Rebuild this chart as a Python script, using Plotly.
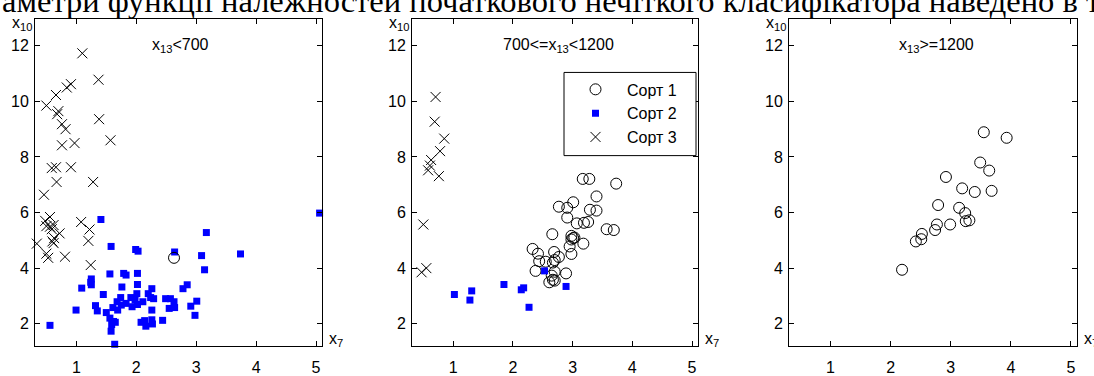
import plotly.graph_objects as go

# ---------------- data ----------------
# Panel 1: x13 < 700
p1_s3_x = [1.32, 1.10, 1.37, 0.91, 0.84, 0.66, 0.50, 0.70, 0.68, 1.38, 0.76, 0.82, 0.76, 0.97, 1.57,
           0.59, 0.66, 0.91, 0.67, 1.28, 0.46, 0.56, 0.48, 1.08, 0.50, 0.56, 0.62, 0.59, 1.22, 0.72,
           0.63, 1.20, 0.60, 0.62, 0.34, 0.50, 0.53, 0.81, 1.24]
p1_s3_y = [13.0, 11.73, 10.78, 10.62, 10.50, 10.23, 9.85, 9.65, 9.54, 9.36, 9.18, 9.00, 8.42, 8.50, 8.60,
           7.60, 7.63, 7.63, 7.10, 7.10, 6.64, 5.84, 5.70, 5.66, 5.51, 5.49, 5.55, 5.40, 5.39, 5.25,
           5.08, 4.98, 4.96, 4.90, 4.88, 4.52, 4.37, 4.41, 4.11]
p1_s2_x = [0.56, 0.995, 1.09, 1.25, 1.24, 1.25, 1.41, 1.32, 1.35, 1.45, 1.50, 1.56, 1.58, 1.56, 1.61,
           1.59, 1.62, 1.58, 1.64, 1.65, 1.68, 1.69, 1.74, 1.75, 1.76, 1.79, 1.83, 1.83, 1.91, 1.93,
           1.98, 2.01, 2.02, 2.02, 2.02, 1.99, 2.03, 2.08, 2.11, 2.14, 2.16, 2.20, 2.24, 2.26, 2.27,
           2.26, 2.26, 2.29, 2.44, 2.49, 2.55, 2.57, 2.63, 2.64, 2.64, 2.78, 2.85, 2.91, 2.98, 3.01,
           3.09, 3.14, 3.17, 3.74, 5.06]
p1_s2_y = [1.94, 2.49, 3.28, 3.61, 3.49, 3.40, 5.75, 2.65, 2.46, 3.05, 2.40, 3.79, 4.78, 2.20, 2.58,
           1.97, 2.08, 1.73, 1.26, 2.05, 2.79, 2.49, 2.94, 2.67, 3.32, 3.81, 3.75, 2.73, 2.94, 2.61,
           2.85, 3.08, 2.69, 3.41, 3.81, 4.67, 4.61, 2.05, 2.79, 2.11, 1.91, 3.08, 2.94, 2.14, 1.99,
           2.49, 3.26, 2.90, 2.12, 2.90, 2.55, 2.90, 2.79, 2.58, 4.58, 3.26, 3.40, 2.63, 2.30, 2.81,
           4.45, 3.94, 5.28, 4.51, 5.98]
p1_s1_x = [2.63]
p1_s1_y = [4.37]

# Panel 2: 700 <= x13 < 1200
p2_s1_x = [3.17, 3.28, 3.73, 3.40, 2.77, 2.91, 3.01, 3.29, 3.40, 2.91, 3.07, 3.19, 3.26, 3.57, 3.69,
           2.66, 2.98, 3.01, 3.03, 2.98, 3.18, 2.95, 2.98, 2.33, 2.42, 2.69, 2.77, 2.70, 2.44, 2.55,
           2.67, 2.38, 2.70, 2.89, 2.65, 2.67, 2.61, 2.70]
p2_s1_y = [7.21, 7.21, 7.04, 6.58, 6.21, 6.17, 6.37, 6.10, 6.07, 5.82, 5.61, 5.63, 5.66, 5.40, 5.37,
           5.22, 5.16, 5.08, 5.10, 5.03, 4.88, 4.78, 4.51, 4.69, 4.52, 4.58, 4.40, 4.29, 4.25, 4.23,
           4.20, 3.90, 3.87, 3.81, 3.73, 3.58, 3.49, 3.55]
p2_s2_x = [1.02, 1.28, 1.31, 1.85, 2.14, 2.18, 2.27, 2.53, 2.89]
p2_s2_y = [3.05, 2.85, 3.18, 3.41, 3.22, 3.29, 2.59, 3.90, 3.34]
p2_s3_x = [0.705, 0.69, 0.85, 0.78, 0.63, 0.61, 0.58, 0.76, 0.50, 0.47, 0.55]
p2_s3_y = [10.16, 9.27, 8.66, 8.21, 7.89, 7.69, 7.52, 7.31, 5.57, 3.85, 4.00]

# Panel 3: x13 >= 1200
p3_s1_x = [3.55, 3.93, 3.49, 3.64, 2.92, 3.19, 3.40, 3.68, 2.79, 3.14, 3.24, 3.31, 3.25, 2.77, 2.99,
           2.74, 2.52, 2.51, 2.42, 2.19]
p3_s1_y = [8.89, 8.69, 7.80, 7.51, 7.28, 6.87, 6.74, 6.78, 6.27, 6.17, 5.98, 5.72, 5.69, 5.57, 5.57,
           5.37, 5.23, 5.04, 4.96, 3.94]

series_names = ["Сорт 1", "Сорт 2", "Сорт 3"]
panel_titles = ["x<sub>13</sub>&lt;700", "700&lt;=x<sub>13</sub>&lt;1200", "x<sub>13</sub>&gt;=1200"]
x_ticks = [1, 2, 3, 4, 5]
y_ticks = [2, 4, 6, 8, 10, 12]
top_text = "аметри функції належностей початкового нечіткого класифікатора наведено в т"

# ---------------- styling ----------------
W, H = 1094, 376
FONT = "Liberation Sans, Arial, sans-serif"
FS = 16
panel_px = [(35, 322), (412, 698), (789, 1077)]
top_px, bot_px = 19, 354
xr = [0.31, 5.10]
yr = [1.18, 12.98]
leg_box = (564, 696, 74, 159)  # left, right, top, bottom in px

sty = {
    "Сорт 1": dict(mode="markers", marker=dict(symbol="circle-open", size=11, color="black",
                                               line=dict(width=1, color="black"))),
    "Сорт 2": dict(mode="markers", marker=dict(symbol="square", size=7, color="#0000ff",
                                               line=dict(width=0))),
    "Сорт 3": dict(mode="markers", marker=dict(symbol="x-thin", size=10, color="black",
                                               line=dict(width=1, color="black"))),
}

fig = go.Figure()

panels = [
    [("Сорт 3", p1_s3_x, p1_s3_y), ("Сорт 2", p1_s2_x, p1_s2_y), ("Сорт 1", p1_s1_x, p1_s1_y)],
    [("Сорт 1", p2_s1_x, p2_s1_y), ("Сорт 2", p2_s2_x, p2_s2_y), ("Сорт 3", p2_s3_x, p2_s3_y)],
    [("Сорт 1", p3_s1_x, p3_s1_y)],
]

for i, plist in enumerate(panels):
    ax = "" if i == 0 else str(i + 1)
    for name, xs, ys in plist:
        fig.add_trace(go.Scatter(
            x=xs, y=ys, name=name, xaxis="x" + ax, yaxis="y" + ax,
            showlegend=(i == 1), legendgroup=name, legendrank=series_names.index(name) + 1,
            cliponaxis=False, **sty[name]))

layout = dict(
    width=W, height=H, margin=dict(l=0, r=0, t=0, b=0),
    paper_bgcolor="white", plot_bgcolor="white",
    font=dict(family=FONT, size=FS, color="black"),
    showlegend=True,
    legend=dict(x=leg_box[0] / W, y=1 - leg_box[2] / H, xanchor="left", yanchor="top",
                borderwidth=0, bgcolor="rgba(0,0,0,0)",
                font=dict(family=FONT, size=FS, color="black"),
                itemwidth=53, tracegroupgap=7, traceorder="normal"),
    shapes=[dict(type="rect", xref="paper", yref="paper",
                 x0=leg_box[0] / W, x1=leg_box[1] / W,
                 y0=1 - leg_box[3] / H, y1=1 - leg_box[2] / H,
                 line=dict(color="black", width=1), fillcolor="white", layer="above")],
)

annotations = []
centers = [180, 558, 936]
for i, (l, r) in enumerate(panel_px):
    ax = "" if i == 0 else str(i + 1)
    axis_common = dict(showline=True, linecolor="black", linewidth=1, mirror="ticks",
                       ticks="inside", ticklen=5, tickcolor="black", tickwidth=1,
                       showgrid=False, zeroline=False,
                       tickfont=dict(family=FONT, size=FS, color="black"))
    layout["xaxis" + ax] = dict(domain=[l / W, r / W], range=xr, tickvals=x_ticks,
                                anchor="y" + ax, ticklabelstandoff=6, **axis_common)
    layout["yaxis" + ax] = dict(domain=[1 - bot_px / H, 1 - top_px / H], range=yr, tickvals=y_ticks,
                                anchor="x" + ax, ticklabelstandoff=2, **axis_common)
    # axis letters
    annotations.append(dict(text="x<sub>10</sub>", xref="paper", yref="paper",
                            x=(l - 1) / W, y=1 - 12 / H, xanchor="right", yanchor="top",
                            showarrow=False, font=dict(family=FONT, size=FS)))
    annotations.append(dict(text="x<sub>7</sub>", xref="paper", yref="paper",
                            x=(r + 5) / W, y=1 - 335 / H, xanchor="left", yanchor="top",
                            showarrow=False, font=dict(family=FONT, size=FS)))
    annotations.append(dict(text=panel_titles[i], xref="paper", yref="paper",
                            x=centers[i] / W, y=1 - 35 / H, xanchor="center", yanchor="top",
                            showarrow=False, font=dict(family=FONT, size=FS)))

annotations.append(dict(text=top_text, xref="paper", yref="paper", x=0, y=1,
                        xanchor="left", yanchor="top", yshift=19, showarrow=False,
                        font=dict(family="Liberation Serif, Times New Roman, serif", size=32.5)))
layout["annotations"] = annotations

fig.update_layout(**layout)
fig.write_html("out.html")
